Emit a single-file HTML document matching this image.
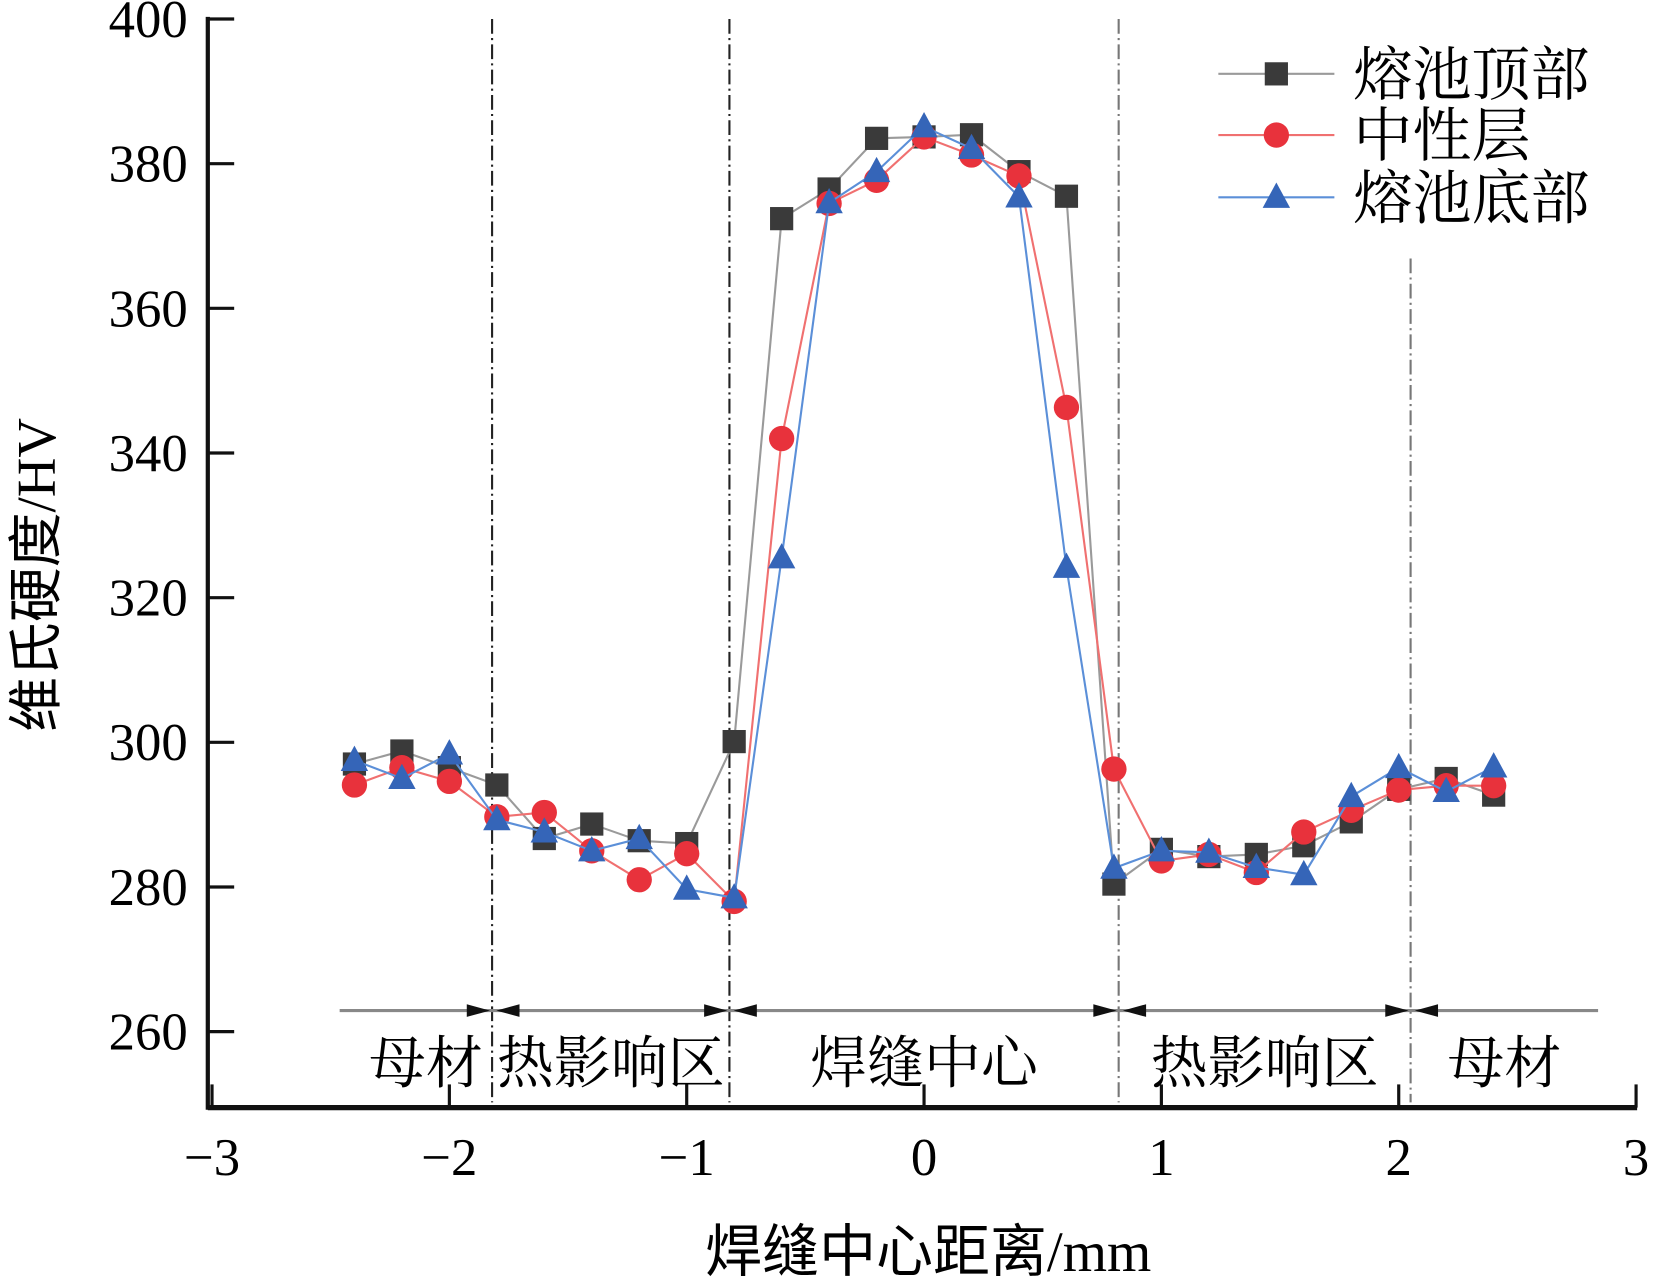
<!DOCTYPE html>
<html><head><meta charset="utf-8"><style>
html,body{margin:0;padding:0;background:#fff;}
svg{display:block;font-family:"Liberation Serif","Noto Serif CJK SC",serif;}
</style></head><body>
<svg id="chart" width="1654" height="1280" viewBox="0 0 1568 1213.4" xmlns="http://www.w3.org/2000/svg">
<g id="axes"></g>
<g id="zones"></g>
<g id="series"></g>
<g id="legend"></g>
<text x="0" y="0" transform="translate(52,545) rotate(-90)" text-anchor="middle" font-size="52" font-family="Liberation Serif, Noto Sans CJK SC, serif">维氏硬度/HV</text>
<text x="880" y="1205" text-anchor="middle" font-size="54" font-family="Liberation Serif, Noto Sans CJK SC, serif">焊缝中心距离/mm</text>
</svg>
<script>
const xs = [-2.4,-2.2,-2.0,-1.8,-1.6,-1.4,-1.2,-1.0,-0.8,-0.6,-0.4,-0.2,0,0.2,0.4,0.6,0.8,1.0,1.2,1.4,1.6,1.8,2.0,2.2,2.4];
const topVals = [297,298.8,296.5,294.1,286.7,288.7,286.4,286,300.1,372.4,376.5,383.5,383.7,384,378.9,375.5,280.4,285.2,284.2,284.5,285.7,289,293.5,295,292.7];
const midVals = [294.1,296.5,294.6,289.7,290.3,285,281,284.6,278,342,374.5,377.7,383.7,381.2,378.3,346.3,296.3,283.6,284.5,282,287.6,290.6,293.4,294,294];
const botVals = [297.5,295,298.4,289.3,287.6,285,286.7,279.7,278.5,325.5,374.6,378.9,385.1,382.1,375.4,324.2,282.6,285,284.8,282.7,281.7,292.5,296.5,293.2,296.6];
const xTicks = [-3,-2,-1,0,1,2,3];
const xTickLabels = ["−3","−2","−1","0","1","2","3"];
const yTicks = [260,280,300,320,340,360,380,400];
const zoneBounds = [-1.82,-0.82,0.82,2.05];
const zoneLabels = ["母材","热影响区","焊缝中心","热影响区","母材"];
const seriesNames = ["熔池顶部","中性层","熔池底部"];

const NS="http://www.w3.org/2000/svg";
const X=v=>876+225*v, Y=v=>18+(400-v)*6.857;
function mk(tag,attrs,parent){const e=document.createElementNS(NS,tag);for(const k in attrs)e.setAttribute(k,attrs[k]);parent.appendChild(e);return e;}
const axes=document.getElementById('axes');
let e=mk('line',{x1:197,y1:16,x2:197,y2:1052,stroke:'#111','stroke-width':4},axes);


e=mk('line',{x1:197,y1:1050,x2:1552,y2:1050,stroke:'#111','stroke-width':5},axes);


yTicks.forEach(t=>{
  let l=mk('line',{x1:197,y1:Y(t),x2:222,y2:Y(t),stroke:'#111','stroke-width':3},axes);
  
  
  let tx=mk('text',{x:178,y:Y(t)+17,'text-anchor':'end','font-size':50},axes);tx.textContent=t;
  
  
});
xTicks.forEach((t,i)=>{
  let l=mk('line',{x1:X(t),y1:1050,x2:X(t),y2:1028,stroke:'#111','stroke-width':3},axes);
  
  
  let tx=mk('text',{x:X(t),y:1114,'text-anchor':'middle','font-size':50},axes);tx.textContent=xTickLabels[i];
  
  
});
const zones=document.getElementById('zones');
const bColors=['#222','#222','#777','#777'];
zoneBounds.forEach((b,i)=>{
  let l=mk('line',{x1:X(b),y1:i==3?245:18,x2:X(b),y2:1045,stroke:bColors[i],'stroke-width':2,'stroke-dasharray':'14,4,2,4'},zones);
  
  
});
e=mk('line',{x1:322,y1:958,x2:1515,y2:958,stroke:'#888','stroke-width':3},zones);


zoneBounds.forEach(b=>{
  const x=X(b);
  mk('polygon',{points:`${x-2},958 ${x-24},952 ${x-24},964`,fill:'#111'},zones);
  mk('polygon',{points:`${x+4},958 ${x+26},952 ${x+26},964`,fill:'#111'},zones);
});
const edges=[X(-2.4)+5,...zoneBounds.map(X),1515];
zoneLabels.forEach((z,i)=>{
  let tx=mk('text',{x:(edges[i]+edges[i+1])/2,y:1026,'text-anchor':'middle','font-size':54,'font-family':'Noto Serif CJK SC, serif'},zones);tx.textContent=z;
  
  
});
const series=document.getElementById('series');
const cfg=[{v:topVals,line:'#9a9a9a',fill:'#3a3a3a',m:'sq'},{v:midVals,line:'#f07070',fill:'#e8323c',m:'ci'},{v:botVals,line:'#5b8fd8',fill:'#3565b8',m:'tr'}];
function marker(m,x,y,fill,p){
  if(m=='sq')return mk('rect',{x:x-11,y:y-11,width:22,height:22,fill},p);
  if(m=='ci')return mk('circle',{cx:x,cy:y,r:12,fill},p);
  return mk('polygon',{points:`${x},${y-14} ${x-13},${y+10} ${x+13},${y+10}`,fill},p);
}
cfg.forEach((c,si)=>{
  const g=mk('g',{},series);
  
  
  const pl=mk('polyline',{points:xs.map((x,i)=>X(x)+','+Y(c.v[i])).join(' '),fill:'none',stroke:c.line,'stroke-width':2},g);
  
  
  xs.forEach((x,i)=>{
    const mm=marker(c.m,X(x),Y(c.v[i]),c.fill,g);
    
    
  });
});
const legend=document.getElementById('legend');
[70,128,187].forEach((y,i)=>{
  const c=cfg[i];
  const le=mk('g',{},legend);
  
  
  mk('line',{x1:1155,y1:y,x2:1265,y2:y,stroke:c.line,'stroke-width':2},le);
  marker(c.m,1210,y,c.fill,le);
  const t=mk('text',{x:1283,y:y+20,'font-size':56,'font-family':'Noto Serif CJK SC, serif'},le);t.textContent=seriesNames[i];
});
</script>
</body></html>
